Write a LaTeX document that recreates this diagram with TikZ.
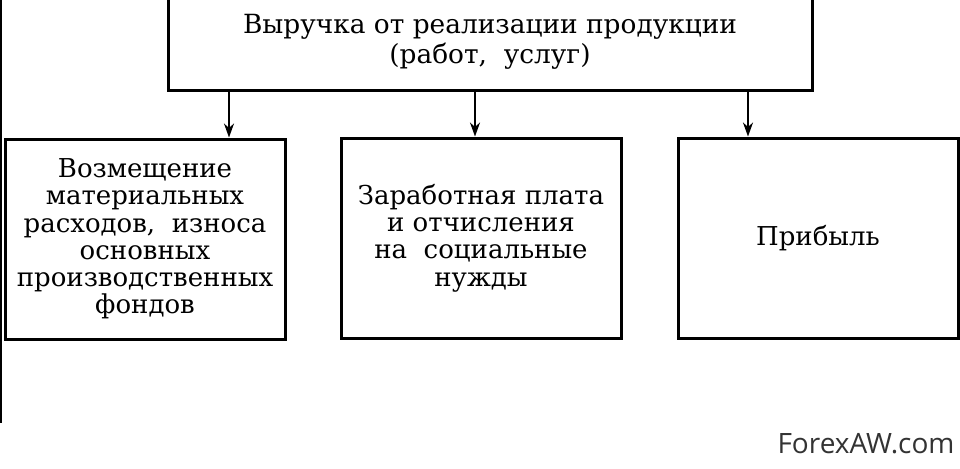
\documentclass[tikz,border=0pt]{standalone}
\usepackage{fontspec}
\setmainfont{DejaVu Serif}
\newfontfamily\markfont{Open Sans}
\usetikzlibrary{arrows.meta,positioning}

\begin{document}
\begin{tikzpicture}[->,>={Stealth[length=7pt,width=5pt]},x=0.5pt,y=-0.5pt,line width=1.1pt,
                    box/.style={draw,line width=1.5pt,align=center,inner sep=0pt,
                                font=\fontsize{13}{13.6}\selectfont},
                    leaf/.style={box,minimum width=140pt,minimum height=100pt}]
  \useasboundingbox (0,0) rectangle (960,468);

  \node[box,minimum width=322pt,minimum height=48pt,
        font=\fontsize{13.2}{15}\selectfont] (top) at (490,42)
        {Выручка от реализации продукции\\(работ,~~услуг)};

  \node[leaf] (costs)  at (145,239) {Возмещение\\материальных\\расходов,~~износа\\основных\\производственных\\фондов};
  \node[leaf] (wages)  at (481,238) {Заработная плата\\и отчисления\\на~~социальные\\нужды};
  \node[leaf] (profit) at (818,238) {Прибыль};

  \coordinate (ca) at ([xshift=42pt]costs.north);
  \coordinate (wa) at ([xshift=-3pt]wages.north);
  \coordinate (pa) at ([xshift=-35pt]profit.north);

  \path (top.south -| ca) edge (ca)
        (top.south -| wa) edge (wa)
        (top.south -| pa) edge (pa);

  \draw[-,line width=1.4pt] (1,-5) -- (1,423);

  \node[font=\markfont\fontsize{14}{16}\selectfont,text=black!80] (mark) at (866,444) {ForexAW.com};
\end{tikzpicture}
\end{document}
